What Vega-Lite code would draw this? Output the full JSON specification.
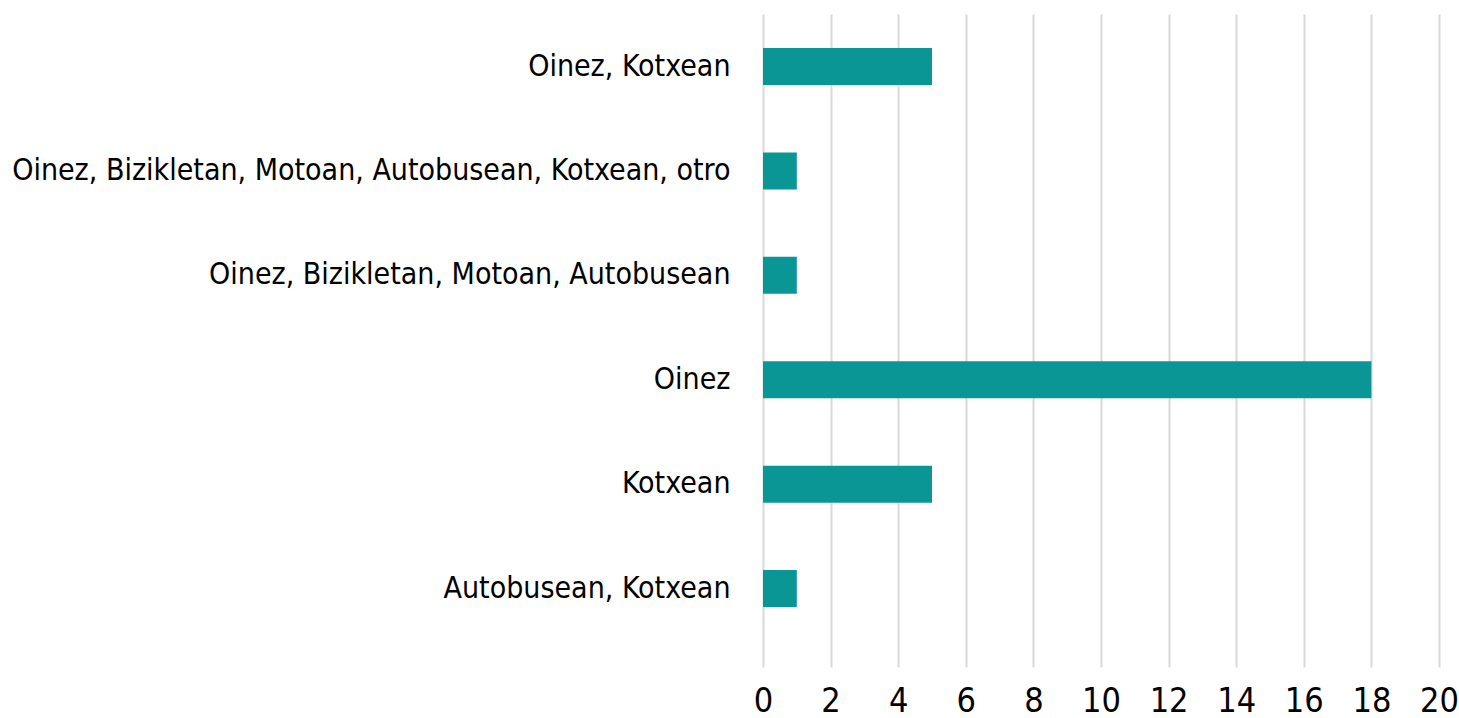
{
  "$schema": "https://vega.github.io/schema/vega-lite/v6.json",
  "width": 676,
  "height": 653,
  "autosize": {"type": "none"},
  "padding": {"left": 763, "top": 14, "right": 20, "bottom": 51},
  "background": "white",
  "data": {
    "values": [
      {"mode": "Oinez, Kotxean", "count": 5},
      {"mode": "Oinez, Bizikletan, Motoan, Autobusean, Kotxean, otro", "count": 1},
      {"mode": "Oinez, Bizikletan, Motoan, Autobusean", "count": 1},
      {"mode": "Oinez", "count": 18},
      {"mode": "Kotxean", "count": 5},
      {"mode": "Autobusean, Kotxean", "count": 1}
    ]
  },
  "mark": {"type": "bar", "color": "#0B9696"},
  "encoding": {
    "y": {
      "field": "mode",
      "type": "nominal",
      "sort": null,
      "scale": {"paddingInner": 0.6456, "paddingOuter": 0.45, "align": 0.362},
      "axis": {
        "title": null,
        "domain": false,
        "ticks": false,
        "labelPadding": 33,
        "labelFont": "DejaVu Sans Condensed",
        "labelFontSize": 30,
        "labelColor": "#000000",
        "labelLimit": 1000,
        "grid": false
      }
    },
    "x": {
      "field": "count",
      "type": "quantitative",
      "scale": {"domain": [0, 20], "nice": false},
      "axis": {
        "title": null,
        "values": [0, 2, 4, 6, 8, 10, 12, 14, 16, 18, 20],
        "domain": false,
        "ticks": false,
        "grid": true,
        "gridColor": "#D9D9D9",
        "gridWidth": 2,
        "labelPadding": 17,
        "labelFont": "DejaVu Sans Condensed",
        "labelFontSize": 34,
        "labelColor": "#000000",
        "labelFlush": false,
        "labelOverlap": false
      }
    }
  },
  "config": {"view": {"stroke": null}}
}
